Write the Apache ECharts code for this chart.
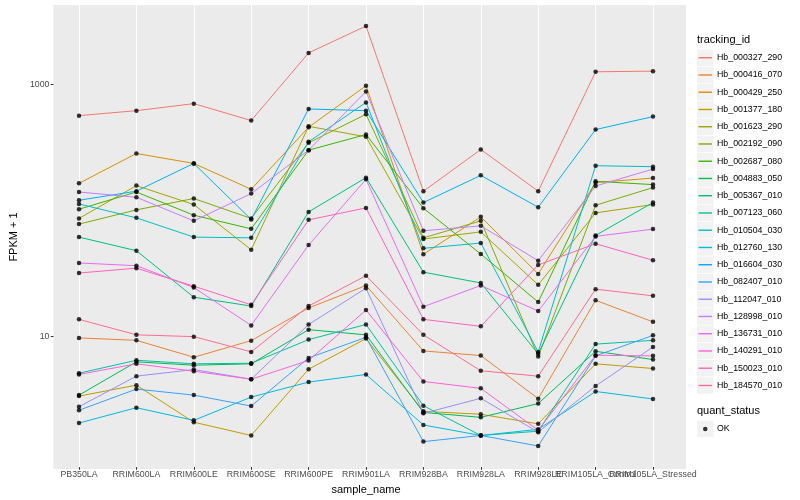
<!DOCTYPE html>
<html>
<head>
<meta charset="utf-8">
<script src="https://cdn.jsdelivr.net/npm/echarts@6/dist/echarts.min.js"></script>
<style>
html,body{margin:0;padding:0;background:#ffffff;}
#c{width:800px;height:500px;}
</style>
</head>
<body>
<div id="c"></div>
<script>
// ---------------- data ----------------
const categories = ["PB350LA","RRIM600LA","RRIM600LE","RRIM600SE","RRIM600PE","RRIM901LA","RRIM928BA","RRIM928LA","RRIM928LE","RRIM105LA_Control","RRIM105LA_Stressed"];
const yTickLabels = [10, 1000];

const Hb_000327_290 = [558, 611, 695, 510, 1759, 2877, 140, 300, 140, 1245, 1260];
const Hb_000416_070 = [9.54, 9.13, 6.70, 9.08, 16.5, 24.9, 7.52, 6.91, 3.14, 19.0, 12.8];
const Hb_000429_250 = [161.6, 279, 232.7, 144.9, 451, 964, 44.1, 87.5, 30.8, 163.7, 178];
const Hb_001377_180 = [3.29, 4.02, 2.04, 1.60, 5.38, 9.42, 2.49, 2.36, 1.98, 5.94, 5.45];
const Hb_001623_290 = [85, 155, 109.6, 47.9, 459, 378.6, 58.3, 66.5, 25.2, 94.1, 109.6];
const Hb_002192_090 = [76.6, 99.4, 122.4, 85, 339.4, 571.5, 59.6, 81.3, 6.78, 108.2, 149.5];
const Hb_002687_080 = [100.6, 137.9, 90.2, 70.3, 296.6, 394.8, 102.5, 44.3, 18.4, 167.6, 157.9];
const Hb_004883_050 = [3.35, 6.16, 5.79, 5.94, 11.1, 10.1, 2.44, 2.23, 2.87, 7.47, 6.42];
const Hb_005367_010 = [60.4, 47.1, 20.1, 17.1, 95.8, 179.3, 31.8, 26.1, 7.13, 62.3, 113.7];
const Hb_007123_060 = [5.00, 6.34, 5.94, 6.00, 9.25, 12.2, 2.76, 1.60, 1.73, 8.52, 9.13];
const Hb_010504_030 = [110.8, 85.9, 60.4, 59.6, 345.6, 711, 49.2, 54.2, 7.39, 223.2, 219.1];
const Hb_012760_130 = [2.01, 2.66, 2.11, 3.23, 4.25, 4.89, 1.94, 1.60, 1.79, 3.58, 3.12];
const Hb_016604_030 = [118.6, 140, 232.7, 83.4, 630.5, 611, 113.7, 187, 104.4, 432.4, 548];
const Hb_082407_010 = [2.54, 3.74, 3.35, 2.74, 6.62, 9.64, 1.43, 1.60, 1.32, 6.87, 10.0];
const Hb_112047_010 = [2.71, 4.74, 5.35, 4.48, 12.2, 23.7, 2.40, 3.16, 1.70, 3.96, 8.09];
const Hb_128998_010 = [137.9, 125.2, 81.3, 134, 296.6, 869, 67.8, 74.2, 39.2, 153.9, 209.7];
const Hb_136731_010 = [37.6, 35.8, 24.0, 12.0, 52.2, 173.9, 16.9, 24.9, 15.6, 61.2, 69.9];
const Hb_140291_010 = [4.89, 5.94, 5.19, 4.48, 6.31, 15.9, 4.30, 3.79, 1.76, 6.95, 6.87];
const Hb_150023_010 = [31.3, 34.2, 24.6, 17.5, 82.8, 103.1, 13.4, 11.8, 36.3, 53.5, 39.5];
const Hb_184570_010 = [13.4, 10.1, 9.77, 7.39, 17.1, 29.8, 10.1, 5.23, 4.74, 23.3, 20.6];

const seriesNames = ["Hb_000327_290","Hb_000416_070","Hb_000429_250","Hb_001377_180","Hb_001623_290","Hb_002192_090","Hb_002687_080","Hb_004883_050","Hb_005367_010","Hb_007123_060","Hb_010504_030","Hb_012760_130","Hb_016604_030","Hb_082407_010","Hb_112047_010","Hb_128998_010","Hb_136731_010","Hb_140291_010","Hb_150023_010","Hb_184570_010"];
const seriesValues = [Hb_000327_290,Hb_000416_070,Hb_000429_250,Hb_001377_180,Hb_001623_290,Hb_002192_090,Hb_002687_080,Hb_004883_050,Hb_005367_010,Hb_007123_060,Hb_010504_030,Hb_012760_130,Hb_016604_030,Hb_082407_010,Hb_112047_010,Hb_128998_010,Hb_136731_010,Hb_140291_010,Hb_150023_010,Hb_184570_010];

// ---------------- style ----------------
const palette = ["#F8766D","#EA8331","#D89000","#C09B00","#A3A500","#7CAE00","#39B600","#00BB4E","#00BF7D","#00C1A3","#00BFC4","#00BAE0","#00B0F6","#35A2FF","#9590FF","#C77CFF","#E76BF3","#FA62DB","#FF62BC","#FF6C91"];
const FONT = '"Liberation Sans", Arial, Helvetica, sans-serif';
const yMin = 0.897, yMax = 4227;
const legendTop = 49.1, legendStep = 17.25;

const lineSeries = seriesNames.map((name, k) => ({
  name: name,
  type: 'line',
  xAxisIndex: 1,
  yAxisIndex: 1,
  data: seriesValues[k],
  symbol: 'none',
  showSymbol: false,
  silent: true,
  lineStyle: { color: palette[k], width: 1 },
  itemStyle: { color: palette[k] },
  z: 2
}));

const pointData = [];
seriesValues.forEach(vals => vals.forEach((v, i) => pointData.push([i, v])));

const keyRects = seriesNames.map((n, i) => ({
  type: 'rect', z: 0,
  shape: { x: 697, y: legendTop + i * legendStep + 0.4, width: 16.5, height: 16.5 },
  style: { fill: '#F2F2F2' }
}));
keyRects.push({ type: 'rect', z: 0, shape: { x: 697, y: 420.7, width: 16.5, height: 16.5 }, style: { fill: '#F2F2F2' } });

const option = {
  animation: false,
  backgroundColor: '#ffffff',
  textStyle: { fontFamily: FONT },
  title: [
    { text: 'tracking_id', left: 697, top: 34.5, padding: 0, textStyle: { fontSize: 11, fontWeight: 'normal', color: '#000', fontFamily: FONT } },
    { text: 'quant_status', left: 697, top: 405.5, padding: 0, textStyle: { fontSize: 11, fontWeight: 'normal', color: '#000', fontFamily: FONT } }
  ],
  graphic: keyRects,
  legend: [
    {
      data: seriesNames, orient: 'vertical', left: 698.5, top: legendTop, padding: 0,
      icon: 'rect', itemWidth: 13.5, itemHeight: 1.4, itemGap: 0, selectedMode: false, z: 10,
      textStyle: { fontSize: 8.8, color: '#000', fontFamily: FONT, lineHeight: legendStep, height: legendStep, verticalAlign: 'middle' }
    },
    {
      data: ['OK'], orient: 'vertical', left: 703, top: 420.7, padding: 0,
      icon: 'circle', itemWidth: 4.5, itemHeight: 4.5, selectedMode: false, z: 10,
      textStyle: { fontSize: 8.8, color: '#000', fontFamily: FONT, lineHeight: 16.5, height: 16.5, verticalAlign: 'middle', padding: [0, 0, 0, 4.5] }
    }
  ],
  grid: [
    { left: 45, right: 114, top: 5, bottom: 31, show: true, backgroundColor: '#EBEBEB', borderWidth: 0, containLabel: false },
    { left: 79, right: 147, top: 5, bottom: 31, show: false, containLabel: false }
  ],
  xAxis: [
    { type: 'value', gridIndex: 0, show: false, min: 0, max: 1 },
    {
      type: 'category', gridIndex: 1, data: categories, boundaryGap: false,
      axisLine: { show: false },
      axisTick: { show: true, length: 2.7, lineStyle: { color: '#333333', width: 1 } },
      axisLabel: { interval: 0, fontSize: 8.8, color: '#4D4D4D', margin: 3, fontFamily: FONT },
      splitLine: { show: true, lineStyle: { color: '#ffffff', width: 1 } },
      name: 'sample_name', nameLocation: 'middle', nameGap: 12.5,
      nameTextStyle: { fontSize: 11, color: '#000', fontFamily: FONT }
    }
  ],
  yAxis: [
    {
      type: 'log', logBase: 10, gridIndex: 0, min: yMin, max: yMax,
      axisLine: { show: false },
      axisTick: { show: true, customValues: yTickLabels, length: 2.7, lineStyle: { color: '#333333', width: 1 } },
      axisLabel: { customValues: yTickLabels, formatter: v => String(Math.round(v)), fontSize: 8.8, color: '#4D4D4D', margin: 4, fontFamily: FONT },
      splitLine: { show: true, showMinLine: false, showMaxLine: false, lineStyle: { color: '#ffffff', width: 1 } },
      name: 'FPKM + 1', nameLocation: 'middle', nameGap: 27, nameRotate: 90,
      nameTextStyle: { fontSize: 11, color: '#000', fontFamily: FONT }
    },
    { type: 'log', logBase: 10, gridIndex: 1, min: yMin, max: yMax, show: false, splitLine: { show: false } }
  ],
  series: lineSeries.concat([{
    name: 'OK', type: 'scatter', xAxisIndex: 1, yAxisIndex: 1,
    data: pointData, symbol: 'circle', symbolSize: 4.5, silent: true,
    itemStyle: { color: '#000000' }, z: 5
  }])
};

const chart = echarts.init(document.getElementById('c'), null, { renderer: 'canvas' });
chart.setOption(option);
</script>
</body>
</html>
